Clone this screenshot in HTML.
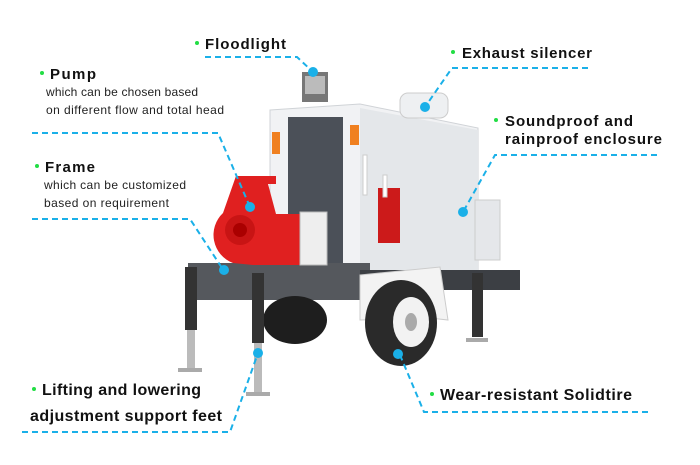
<!DOCTYPE html>
<html><head><style>
body{margin:0;background:#fff}
svg{display:block}
.t{font-family:"Liberation Sans",sans-serif;font-weight:bold;font-size:15px;fill:#111}
.s{font-family:"Liberation Sans",sans-serif;font-size:12px;fill:#222}
.d{stroke:#1ab0e8;stroke-width:2;stroke-dasharray:6,4;fill:none}
.g{fill:#22dd44}
.b{fill:#1ab0e8}
</style></head><body>
<svg width="700" height="465" viewBox="0 0 700 465">
<!-- enclosure -->
<polygon points="270,110 360,104 478,128 478,273 270,267" fill="#f1f2f4" stroke="#d0d3d7"/>
<polygon points="360,108 478,130 478,272 360,270" fill="#e4e7ea"/>
<rect x="288" y="117" width="55" height="150" fill="#4b5058"/>
<rect x="272" y="132" width="8" height="22" fill="#f08020"/>
<rect x="350" y="125" width="9" height="20" fill="#f08020"/>
<rect x="378" y="188" width="22" height="55" fill="#cc1a1a"/>
<rect x="363" y="155" width="4" height="40" fill="#fff" stroke="#ccc"/>
<rect x="383" y="175" width="4" height="22" fill="#fff" stroke="#ccc"/>
<rect x="475" y="200" width="25" height="60" fill="#e5e7ea" stroke="#ccc"/>
<!-- exhaust -->
<rect x="400" y="93" width="48" height="25" rx="8" fill="#eef0f2" stroke="#ccc"/>
<!-- floodlight -->
<rect x="302" y="72" width="26" height="30" fill="#777"/>
<rect x="305" y="76" width="20" height="18" fill="#bbb"/>
<!-- frame -->
<polygon points="188,263 370,263 370,300 188,300" fill="#55585d"/>
<rect x="360" y="270" width="160" height="20" fill="#3c3f44"/>
<!-- back wheel -->
<ellipse cx="295" cy="320" rx="32" ry="24" fill="#1e1e1e"/>
<!-- pump -->
<path d="M236,176 h40 v8 h-8 l8,30 h27 v51 h-50 l-20,-2 a30,30 0 0 1 -10,-50 z" fill="#e02020"/>
<circle cx="240" cy="230" r="15" fill="#c81414"/>
<circle cx="240" cy="230" r="7" fill="#a00"/>
<rect x="300" y="212" width="27" height="53" fill="#eee" stroke="#bbb"/>
<!-- fender -->
<polygon points="360,275 440,267 448,320 430,318 360,320" fill="#f3f3f3" stroke="#ccc"/>
<!-- front wheel -->
<ellipse cx="401" cy="323" rx="36" ry="43" fill="#2a2a2a"/>
<ellipse cx="411" cy="322" rx="18" ry="25" fill="#f2f2f2"/>
<ellipse cx="411" cy="322" rx="6" ry="9" fill="#aaa"/>
<!-- legs -->
<rect x="185" y="267" width="12" height="63" fill="#333"/>
<rect x="187" y="330" width="8" height="38" fill="#bbb"/>
<rect x="178" y="368" width="24" height="4" fill="#aaa"/>
<rect x="252" y="273" width="12" height="70" fill="#333"/>
<rect x="254" y="343" width="8" height="50" fill="#bbb"/>
<rect x="246" y="392" width="24" height="4" fill="#aaa"/>
<rect x="472" y="273" width="11" height="64" fill="#333"/>
<rect x="466" y="338" width="22" height="4" fill="#aaa"/>

<!-- labels -->
<circle class="g" cx="197" cy="43" r="2"/>
<text class="t" x="205" y="49" textLength="81">Floodlight</text>
<path class="d" d="M205,57 H297 L313,72"/>
<circle class="b" cx="313" cy="72" r="5"/>

<circle class="g" cx="42" cy="73" r="2"/>
<text class="t" x="50" y="79" textLength="46">Pump</text>
<text class="s" x="46" y="96" textLength="152">which can be chosen based</text>
<text class="s" x="46" y="114" textLength="178">on different flow and total head</text>
<path class="d" d="M32,133 H218 L250,207"/>
<circle class="b" cx="250" cy="207" r="5"/>

<circle class="g" cx="37" cy="166" r="2"/>
<text class="t" x="45" y="172" textLength="50">Frame</text>
<text class="s" x="44" y="189" textLength="142">which can be customized</text>
<text class="s" x="44" y="207" textLength="125">based on requirement</text>
<path class="d" d="M32,219 H190 L222,268"/>
<circle class="b" cx="224" cy="270" r="5"/>

<circle class="g" cx="453" cy="52" r="2"/>
<text class="t" x="462" y="58" textLength="130">Exhaust silencer</text>
<path class="d" d="M588,68 H452 L425,107"/>
<circle class="b" cx="425" cy="107" r="5"/>

<circle class="g" cx="496" cy="120" r="2"/>
<text class="t" x="505" y="126" textLength="128">Soundproof and</text>
<text class="t" x="505" y="144" textLength="157">rainproof enclosure</text>
<path class="d" d="M657,155 H495 L463,212"/>
<circle class="b" cx="463" cy="212" r="5"/>

<circle class="g" cx="34" cy="389" r="2"/>
<text class="t" x="42" y="395" style="font-size:16px" textLength="159">Lifting and lowering</text>
<text class="t" x="30" y="421" style="font-size:16px" textLength="192">adjustment support feet</text>
<path class="d" d="M22,432 H230 L258,353"/>
<circle class="b" cx="258" cy="353" r="5"/>

<circle class="g" cx="432" cy="394" r="2"/>
<text class="t" x="440" y="400" style="font-size:16px" textLength="192">Wear-resistant  Solidtire</text>
<path class="d" d="M648,412 H424 L400,355"/>
<circle class="b" cx="398" cy="354" r="5"/>
</svg>
</body></html>
